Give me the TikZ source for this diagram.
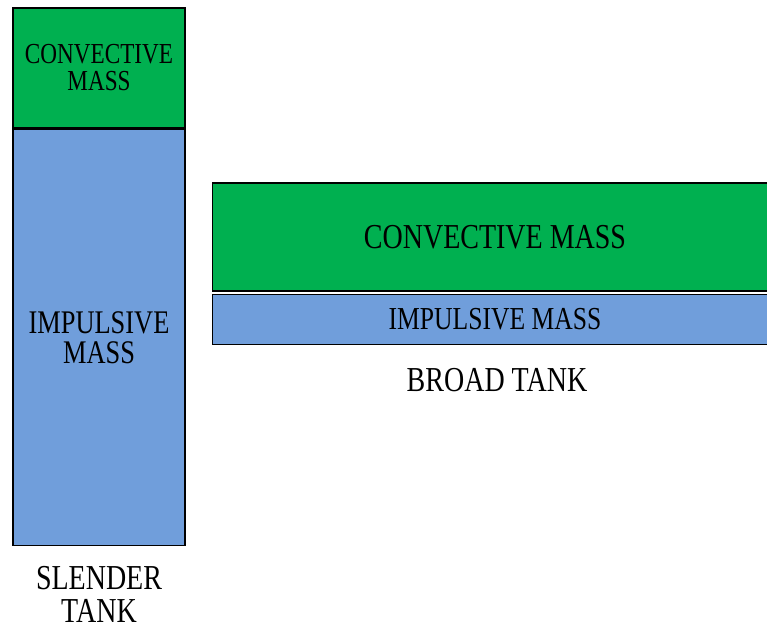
\documentclass[tikz,border=0pt]{standalone}
\usepackage{fontspec}
\setmainfont[FakeStretch=0.8]{Liberation Serif}
\usetikzlibrary{positioning}
\definecolor{convgreen}{RGB}{0,176,80}
\definecolor{impblue}{RGB}{112,158,219}

\begin{document}
\begin{tikzpicture}[x=1pt, y=-1pt,
  mass/.style={draw, line width=1.6pt, inner sep=0pt, align=center},
  conv/.style={mass, fill=convgreen},
  imp/.style={mass, fill=impblue},
  tag/.style={align=center, inner sep=1pt, font=\fontsize{35}{33}\selectfont},
]
\useasboundingbox (0,0) rectangle (767,630);
\clip (0,0) rectangle (767,630);

% slender tank
\node[conv, minimum width=172pt, minimum height=120pt, font=\fontsize{29}{27}\selectfont] (sconv) at (99,68) {CONVECTIVE\\MASS};
\node[imp, minimum width=172pt, minimum height=416pt, below=0pt of sconv, font=\fontsize{33}{30}\selectfont] (simp) {IMPULSIVE\\MASS};
\node[tag] (slender) at (99,594) {SLENDER\\TANK};

% broad tank, runs off past the right edge
\node[conv, minimum width=565pt, minimum height=108pt, font=\fontsize{35}{35}\selectfont] (bconv) at (495,237) {CONVECTIVE MASS};
\node[imp, minimum width=565pt, minimum height=50pt, below=2pt of bconv, font=\fontsize{32}{32}\selectfont] (bimp) {IMPULSIVE MASS};
\node[tag] (broad) at (497,380) {BROAD TANK};
\end{tikzpicture}
\end{document}
